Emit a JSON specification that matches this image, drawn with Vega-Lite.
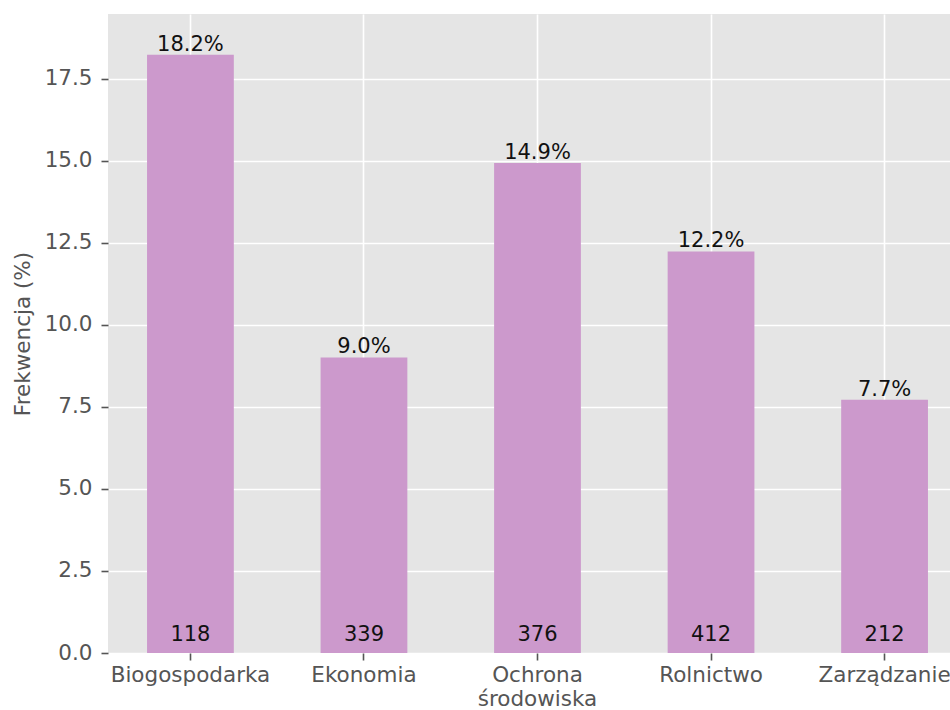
{
  "$schema": "https://vega.github.io/schema/vega-lite/v6.json",
  "width": 842,
  "height": 639,
  "autosize": {"type": "none"},
  "padding": {"left": 108, "top": 14, "right": 0, "bottom": 57},
  "background": "white",
  "config": {
    "view": {"fill": "#E5E5E5", "stroke": null},
    "font": "DejaVu Sans"
  },
  "data": {
    "values": [
      {"kierunek": "Biogospodarka", "pct": 18.24, "label": "18.2%", "n": 118},
      {"kierunek": "Ekonomia", "pct": 9.01, "label": "9.0%", "n": 339},
      {"kierunek": "Ochrona środowiska", "pct": 14.94, "label": "14.9%", "n": 376},
      {"kierunek": "Rolnictwo", "pct": 12.24, "label": "12.2%", "n": 412},
      {"kierunek": "Zarządzanie", "pct": 7.72, "label": "7.7%", "n": 212}
    ]
  },
  "encoding": {
    "x": {
      "field": "kierunek",
      "type": "nominal",
      "sort": null,
      "scale": {"range": [0, 859], "paddingInner": 0.5, "paddingOuter": 0.225},
      "axis": {
        "title": null,
        "labelAngle": 0,
        "labelFontSize": 21.5,
        "labelColor": "#555555",
        "labelPadding": 4,
        "labelBaseline": "top",
        "labelLineHeight": 24,
        "labelExpr": "datum.value == 'Ochrona środowiska' ? ['Ochrona', 'środowiska'] : datum.value",
        "tickColor": "#555555",
        "tickSize": 7,
        "tickWidth": 1.6,
        "domain": false,
        "grid": true,
        "gridColor": "white",
        "gridWidth": 1.6
      }
    }
  },
  "layer": [
    {
      "mark": {"type": "bar", "color": "#CC99CC"},
      "encoding": {
        "y": {
          "field": "pct",
          "type": "quantitative",
          "scale": {"domain": [0, 19.48], "nice": false, "zero": true},
          "axis": {
            "title": "Frekwencja (%)",
            "titleFontSize": 21.5,
            "titleFontWeight": "normal",
            "titleColor": "#555555",
            "titlePadding": 10,
            "values": [0, 2.5, 5, 7.5, 10, 12.5, 15, 17.5],
            "format": ".1f",
            "labelFontSize": 21.5,
            "labelColor": "#555555",
            "labelPadding": 9,
            "tickColor": "#555555",
            "tickSize": 7,
            "tickWidth": 1.6,
            "domain": false,
            "grid": true,
            "gridColor": "white",
            "gridWidth": 1.6
          }
        }
      }
    },
    {
      "mark": {"type": "text", "fontSize": 21, "color": "#111111", "baseline": "alphabetic", "dy": -4},
      "encoding": {
        "y": {"field": "pct", "type": "quantitative"},
        "text": {"field": "label"}
      }
    },
    {
      "mark": {"type": "text", "fontSize": 21, "color": "#111111", "baseline": "alphabetic", "dy": -12.5},
      "encoding": {
        "y": {"datum": 0, "type": "quantitative"},
        "text": {"field": "n", "type": "nominal"}
      }
    }
  ]
}
